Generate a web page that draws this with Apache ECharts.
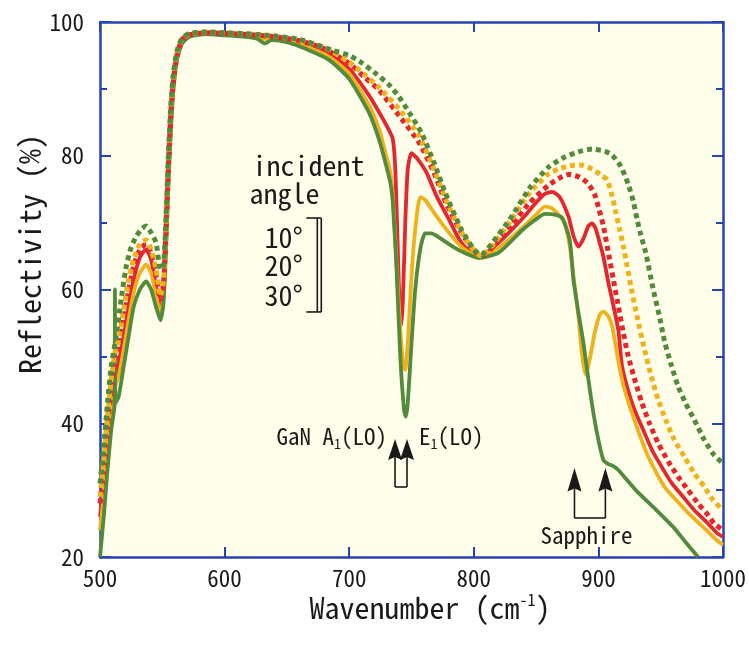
<!DOCTYPE html>
<html>
<head>
<meta charset="utf-8">
<script src="https://cdn.jsdelivr.net/npm/echarts@6/dist/echarts.min.js"></script>
<style>
html,body{margin:0;padding:0;background:#fff;}
#chart{width:749px;height:645px;}
</style>
</head>
<body>
<div id="chart"></div>
<script>
// reflectivity (%) vs wavenumber (cm-1)
// solid lines
var red10 = [[500,26],[503,31],[506,37],[509,42.5],[512,46.5],[515,49],[519,53],[523,57.5],[527,61.5],[532,64.8],[537,66],[541,64.5],[545,60.5],[548.5,57.5],[551,60],[553,68],[555,78],[557,86],[559,91],[562,95],[566,97.2],[572,98],[585,98.4],[600,98.2],[615,98],[630,97.7],[650,97.5],[665,96.7],[684,95.3],[700,93],[716,89],[724,86.5],[732,83.8],[735,82.5],[737,78],[739,66],[740.5,57],[741.5,54.5],[743,58],[745,70],[747,78],[750,80.4],[755,79.5],[762,77.5],[770,74],[780,70.5],[790,67],[804,64.9],[820,67],[840,70.8],[850,73],[857,74.3],[863,74.6],[869,73.8],[876,70.9],[880,68],[884,66.4],[888,67.6],[892,69.5],[895,69.9],[898,69],[901,67],[904,64.9],[908,61],[911,58.5],[916,53.9],[919,48.5],[924,44.8],[929,42],[936,39],[943,36],[951,33.4],[959,31],[968,29],[977,27],[987,25.2],[995,23.6],[1000,23]];
var orange20 = [[500,24],[503,29],[506,35],[509,41],[512,45.5],[515,47],[519,51],[523,55.5],[527,59.5],[532,62.5],[537,63.7],[541,62.5],[545,59],[548.5,56.5],[551,59],[553,67],[555,77],[557,85],[559,90.5],[562,94.8],[566,97],[572,97.9],[585,98.3],[600,98.1],[615,97.9],[630,97.5],[650,97.3],[665,96.4],[684,94.8],[700,92.3],[716,87.5],[724,84],[729,80.5],[733,77.5],[735,74],[738,64],[741,54],[743.5,48.5],[745,48],[747,52],[750,62],[753,69],[757,73.8],[761,73.4],[768,71.5],[780,68.5],[790,66.4],[804,64.8],[820,66.2],[840,69.4],[850,71.2],[857,72.4],[862,72.2],[868,71.2],[873,69.9],[877,66.5],[880,62],[884,56],[887,50],[890,47.2],[893,49.5],[897,53.5],[901,56.2],[904,56.7],[908,56],[911,54.5],[914,51.5],[917,48.3],[921,45],[927,41.5],[933,38.3],[940,35],[953,30.5],[963,28.4],[972,26.6],[985,24.3],[995,22.5],[1000,21.8]];
var green30 = [[500,20],[503,26],[506,33],[509,39],[511.6,42.6],[512,60],[512.4,43],[515,44],[519,48.5],[523,53],[527,57.4],[532,60],[537,61.2],[541,60],[545,57.4],[548.5,55.4],[551,58],[553,66],[555,76],[557,84],[559,90],[562,94.5],[566,96.8],[572,97.8],[585,98.2],[600,98],[615,97.8],[626,97.5],[632,96.8],[638,97.3],[650,97],[665,96],[684,94.3],[700,91.5],[716,86.4],[724,82.4],[729,79],[733,76],[735,73],[738,63],[741,50],[744,42],[745.5,41],[747,43],[750,52],[753,60],[757,66],[761,68.4],[766,68.4],[772,67.8],[780,66.8],[790,65.7],[804,64.7],[820,65.5],[839,68.9],[850,70.5],[857,71.3],[865,71.2],[871,70.7],[877,67.4],[880,61.4],[884,56.5],[888,52],[892,46.5],[896,41.5],[900,37.5],[904,34.5],[908,33.9],[912,33.6],[916,33],[930,30],[945,27.3],[960,24.5],[970,22.2],[980,20]];
// dotted lines
var red10d = [[500,28],[503,33],[506,39.5],[509,45],[512,49],[515,51],[519,55.5],[523,60],[527,63.5],[532,66],[537,66.8],[541,65.5],[545,62],[548.5,58.5],[551,61],[553,69],[555,79],[557,87],[559,91.5],[562,95.3],[566,97.4],[572,98.1],[585,98.4],[600,98.3],[620,98.1],[640,97.8],[660,97.2],[680,96],[700,93.8],[712,91.8],[724,89.8],[740,86],[756,82],[768,77.5],[777,73.2],[790,68.5],[800,65.8],[806,65],[815,66.3],[830,69.6],[845,73],[860,75.6],[868,76.6],[876,77.2],[885,76.8],[892,75.8],[897,74.2],[900,72.3],[904,69.5],[909,64.5],[912,61.5],[916,57.5],[920,53.5],[924,50],[930,46],[935,43],[941,40],[948,37],[956,34.3],[964,32],[972,30],[980,28],[987,26.5],[993,25],[1000,24]];
var orange20d = [[500,29],[503,34.5],[506,41],[509,46.5],[512,50.5],[515,52.5],[519,57],[523,61.5],[527,64.5],[532,66.8],[537,67.4],[541,66],[545,63],[548.5,59],[551,61.5],[553,69.5],[555,79.5],[557,87.5],[559,92],[562,95.5],[566,97.5],[572,98.2],[585,98.5],[600,98.4],[620,98.2],[640,97.9],[660,97.3],[680,96.2],[700,94],[712,92.2],[724,90.2],[740,87],[756,83],[768,78],[777,73.7],[790,68.6],[800,65.8],[806,65],[815,66.6],[830,70.4],[845,74.5],[860,77.3],[868,78],[877,78.5],[886,78.6],[895,78],[903,77],[907,76.4],[911,74],[914,71.5],[917,69],[920,66.5],[923,63.5],[926,60.5],[931,56],[937,51],[942,47.3],[948,43.5],[954,40.5],[961,37.5],[969,35],[977,32.5],[985,30.5],[992,28.5],[1000,27]];
var green30d = [[500,31],[503,36.5],[506,43],[509,48.5],[513,53],[517,58.5],[521,63.4],[525,66.3],[529,67.9],[533,69],[537,69.5],[541,68.5],[545,67],[548.5,63],[551,63.5],[553,71],[555,80.5],[557,88],[559,92.5],[562,95.8],[566,97.6],[572,98.3],[585,98.5],[600,98.4],[620,98.2],[640,97.9],[660,97.4],[686,95.8],[700,95],[710,93.9],[722,92.2],[732,90.6],[740,88.8],[748,86.5],[758,83.4],[768,79],[777,74.5],[790,69],[800,66],[806,65.2],[815,67],[830,70.8],[845,75.2],[860,78.3],[873,79.8],[884,80.6],[895,81],[905,80.7],[911,80.1],[918,78.4],[924,75.7],[928,73.2],[931,70.5],[934,68.2],[938,65.5],[944,60],[949,56],[953,52.3],[958,49],[964,45.5],[970,43],[977,40.5],[985,37.5],[993,35.2],[1000,34]];

var xTicks = [500, 600, 700, 800, 900, 1000];
var yLabels = [20, 40, 60, 80, 100];
var angleLabels = ['10°', '20°', '30°'];

var BLUE = '#2444b4';
var RED = '#e5262e';
var ORANGE = '#f0b21c';
var GREEN = '#528b3c';
var INK = '#1a1a1a';
var MONO = "'Noto Sans Mono CJK JP', 'DejaVu Sans Mono', monospace";

var chart = echarts.init(document.getElementById('chart'));

function line(name, data, color, dotted) {
    return {
        name: name,
        type: 'line',
        data: data,
        showSymbol: false,
        smooth: 0.2,
        clip: true,
        animation: false,
        lineStyle: dotted ?
            {color: color, width: 5, type: [5, 4], cap: 'butt'} :
            {color: color, width: 3.8},
        z: dotted ? 3 : 2
    };
}

function xAxis(pos, labels) {
    return {
        type: 'value', position: pos, min: 500, max: 1000, interval: 100,
        axisLine: {show: true, onZero: false, lineStyle: {color: BLUE, width: 2.5}},
        axisTick: {show: true, inside: true, length: 10, lineStyle: {color: BLUE, width: 2}},
        axisLabel: {show: labels, margin: 10, fontSize: 23, color: INK, fontFamily: MONO,
            formatter: function (v) { return xTicks.indexOf(v) >= 0 ? String(v) : ''; }},
        splitLine: {show: false}
    };
}

function yAxis(pos, labels) {
    return {
        type: 'value', position: pos, min: 20, max: 100, interval: 20,
        axisLine: {show: true, onZero: false, lineStyle: {color: BLUE, width: 2.5}},
        axisTick: {show: true, inside: true, length: 11, lineStyle: {color: BLUE, width: 2}},
        minorTick: {show: true, splitNumber: 2, length: 7, lineStyle: {color: BLUE, width: 2}},
        axisLabel: {show: labels, margin: 16, fontSize: 23, color: INK, fontFamily: MONO,
            formatter: function (v) { return yLabels.indexOf(v) >= 0 ? String(v) : ''; }},
        splitLine: {show: false}
    };
}

var option = {
    animation: false,
    backgroundColor: '#ffffff',
    grid: {left: 100, right: 24, top: 22, bottom: 88, show: true,
        backgroundColor: '#fefeea', borderWidth: 0},
    xAxis: [xAxis('bottom', true), xAxis('top', false)],
    yAxis: [yAxis('left', true), yAxis('right', false)],
    series: [
        line('10° s', red10, RED, false),
        line('20° s', orange20, ORANGE, false),
        line('10° p', red10d, RED, true),
        line('20° p', orange20d, ORANGE, true),
        line('30° s', green30, GREEN, false),
        line('30° p', green30d, GREEN, true)
    ]
};
chart.setOption(option);

// annotations, anchored in data units
function px(wn, r) { return chart.convertToPixel({gridIndex: 0}, [wn, r]); }

function txt(p, text, size, align, extra) {
    var st = {text: text, x: p[0], y: p[1], fill: INK, fontSize: size,
        fontFamily: MONO, align: align || 'left', verticalAlign: 'middle'};
    if (extra) for (var k in extra) st[k] = extra[k];
    return {type: 'text', z: 10, style: st};
}

function seg(a, b) {
    return {type: 'line', z: 10, shape: {x1: a[0], y1: a[1], x2: b[0], y2: b[1]},
        style: {stroke: INK, lineWidth: 1.6}};
}

function arrowPair(wnA, wnB, tip, base, bottom) {
    var out = [];
    [wnA, wnB].forEach(function (w) {
        var t = px(w, tip), b = px(w, base), e = px(w, bottom);
        out.push({type: 'polygon', z: 10,
            shape: {points: [[t[0], t[1]], [t[0] - 7, b[1]], [t[0], b[1] - 3], [t[0] + 7, b[1]]]},
            style: {fill: INK}});
        out.push(seg([t[0], b[1] - 3], e));
    });
    out.push(seg(px(wnA, bottom), px(wnB, bottom)));
    return out;
}

var g = [];
// axis titles
g.push({type: 'text', z: 10, x: 30, y: 254, rotation: Math.PI / 2,
    style: {text: 'Reflectivity (%)', fill: INK, fontSize: 30, fontFamily: MONO,
        align: 'center', verticalAlign: 'middle'}});
g.push({type: 'text', z: 10, x: 430, y: 608,
    style: {text: 'Wavenumber (cm{sup|-1})', fill: INK, fontSize: 30, fontFamily: MONO,
        align: 'center', verticalAlign: 'middle',
        rich: {sup: {fontSize: 16, fontFamily: MONO, fill: INK, verticalAlign: 'top', lineHeight: 32}}}});

// incident angle legend
g.push(txt(px(622.4, 78.6), 'incident', 28));
g.push(txt(px(620, 74.4), 'angle', 28));
var ay = [67.85, 63.66, 59.18];
angleLabels.forEach(function (s, i) { g.push(txt(px(632, ay[i]), s, 28)); });
g.push(seg(px(665.6, 70.69), px(677.6, 70.69)));
g.push(seg(px(665.6, 56.64), px(677.6, 56.64)));
g.push(seg(px(674.4, 70.69), px(674.4, 56.64)));
g.push(seg(px(677.6, 70.69), px(677.6, 56.64)));

// GaN LO phonons
g.push(txt(px(730.4, 38.1), 'GaN A{sub|1}(LO)', 23, 'right',
    {rich: {sub: {fontSize: 14, fontFamily: MONO, fill: INK, verticalAlign: 'bottom', lineHeight: 30}}}));
g.push(txt(px(756, 38.1), 'E{sub|1}(LO)', 23, 'left',
    {rich: {sub: {fontSize: 14, fontFamily: MONO, fill: INK, verticalAlign: 'bottom', lineHeight: 30}}}));
g = g.concat(arrowPair(736.8, 746.4, 37.64, 34.5, 30.47));

// sapphire phonons
g = g.concat(arrowPair(880.8, 905.6, 33.3, 29.8, 25.83));
g.push(txt(px(890.4, 23.3), 'Sapphire', 23, 'center'));

chart.setOption({graphic: {elements: g}});
</script>
</body>
</html>
